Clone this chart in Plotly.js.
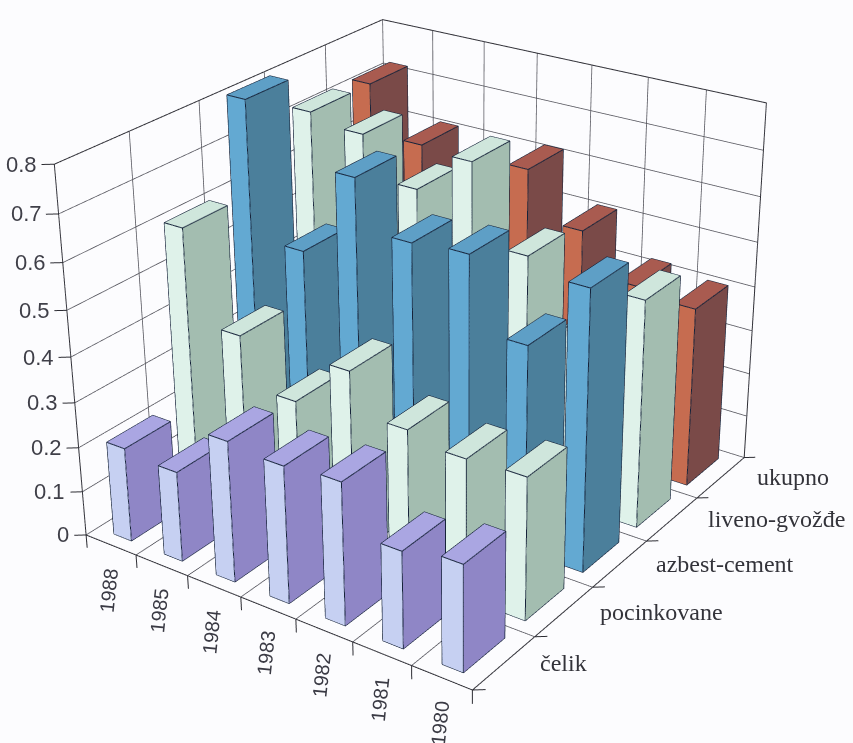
<!DOCTYPE html>
<html><head><meta charset="utf-8">
<script src="https://cdn.plot.ly/plotly-3.0.1.min.js"></script>
<style>html,body{margin:0;padding:0;width:853px;height:743px;overflow:hidden;background:#fcfcfe}
#c{position:absolute;left:-502px;top:-604px;width:1850px;height:1850px}</style>
</head><body><div id="c"></div>
<script>
var years=['1988','1985','1984','1983','1982','1981','1980'];
var seriesNames=['čelik','pocinkovane','azbest-cement','liveno-gvožđe','ukupno'];
var celik=[0.21,0.20,0.31,0.30,0.31,0.21,0.23];
var pocinkovane=[0.607,0.41,0.305,0.41,0.325,0.305,0.31];
var azbest=[0.81,0.515,0.705,0.60,0.61,0.455,0.61];
var liveno=[0.72,0.70,0.61,0.70,0.53,0.40,0.505];
var ukupno=[0.72,0.61,0.55,0.615,0.51,0.42,0.405];
var allSeries=[celik,pocinkovane,azbest,liveno,ukupno];
var frontColors=['#c6d0f2','#dff2ea','#63a9d2','#dff2ea','#c66c50'];
var sideColors=['#8f86c6','#a3bdb0','#4b7f9b','#a3bdb0','#7a4a48'];
var topColors=['#aaa6e2','#cfe6dc','#5e9fc6','#cfe6dc','#a95b50'];
var zTicks=[0,0.1,0.2,0.3,0.4,0.5,0.6,0.7,0.8];
var barW=0.35, barD=0.66;
var nx=years.length, ny=seriesNames.length, zMax=0.8;

var traces=[];
var ex=[],ey=[],ez=[];
function seg(arrX,arrY,arrZ,pts){pts.forEach(function(p){arrX.push(p[0]);arrY.push(p[1]);arrZ.push(p[2]);});arrX.push(null);arrY.push(null);arrZ.push(null);}
allSeries.forEach(function(vals,j){
  var X=[],Y=[],Z=[],I=[],J=[],K=[],FC=[];
  vals.forEach(function(v,i){
    var x0=i+0.5-barW/2,x1=i+0.5+barW/2,y0=j+0.5-barD/2,y1=j+0.5+barD/2;
    var b=X.length;
    [[x0,y0,0],[x1,y0,0],[x1,y1,0],[x0,y1,0],[x0,y0,v],[x1,y0,v],[x1,y1,v],[x0,y1,v]].forEach(function(p){X.push(p[0]);Y.push(p[1]);Z.push(p[2]);});
    var faces=[[0,1,5,frontColors[j]],[0,5,4,frontColors[j]],[1,2,6,sideColors[j]],[1,6,5,sideColors[j]],[4,5,6,topColors[j]],[4,6,7,topColors[j]]];
    faces.forEach(function(f){I.push(b+f[0]);J.push(b+f[1]);K.push(b+f[2]);FC.push(f[3]);});
    seg(ex,ey,ez,[[x0,y0,0],[x0,y0,v],[x0,y1,v],[x1,y1,v],[x1,y1,0],[x1,y0,0],[x0,y0,0]]);
    seg(ex,ey,ez,[[x1,y0,0],[x1,y0,v],[x0,y0,v]]);
    seg(ex,ey,ez,[[x1,y0,v],[x1,y1,v]]);
  });
  traces.push({type:'mesh3d',x:X,y:Y,z:Z,i:I,j:J,k:K,facecolor:FC,flatshading:true,hoverinfo:'skip',showscale:false,
    lighting:{ambient:1,diffuse:0,specular:0,roughness:1,fresnel:0},name:seriesNames[j]});
});
traces.push({type:'scatter3d',mode:'lines',x:ex,y:ey,z:ez,line:{color:'#16233a',width:2},hoverinfo:'skip',connectgaps:false});

var gx=[],gy=[],gz=[],fx=[],fy=[],fz=[];
for(var i=0;i<=nx;i++){
  seg(gx,gy,gz,[[i,0,0],[i,ny,0],[i,ny,zMax]]);
  seg(fx,fy,fz,[[i,0,0],[i,0,-0.03]]);
}
for(var j=0;j<=ny;j++){
  seg(gx,gy,gz,[[0,j,zMax],[0,j,0],[nx,j,0]]);
  seg(fx,fy,fz,[[nx,j,0],[nx+0.14,j+0.07,0]]);
}
zTicks.forEach(function(z){
  seg(gx,gy,gz,[[0,0,z],[0,ny,z],[nx,ny,z]]);
  seg(fx,fy,fz,[[0,0,z],[-0.14,-0.07,z]]);
});
seg(fx,fy,fz,[[0,0,zMax],[0,ny,zMax],[nx,ny,zMax],[nx,ny,0],[nx,0,0],[0,0,0],[0,0,zMax]]);
traces.push({type:'scatter3d',mode:'lines',x:gx,y:gy,z:gz,line:{color:'#5a5a62',width:1.6},hoverinfo:'skip',connectgaps:false});
traces.push({type:'scatter3d',mode:'lines',x:fx,y:fy,z:fz,line:{color:'#2c2c33',width:2},hoverinfo:'skip',connectgaps:false});

var ann=[];
years.forEach(function(t,i){ann.push({x:i+0.5,y:0,z:0,text:t,showarrow:false,textangle:-84,yanchor:'middle',xanchor:'center',yshift:-45,xshift:-2,
  font:{family:'Liberation Sans, Arial, sans-serif',size:20,color:'#3a3a44'}});});
seriesNames.forEach(function(t,j){ann.push({x:nx,y:j+0.5,z:0,text:t,showarrow:false,xanchor:'left',yanchor:'middle',xshift:34,yshift:0,
  font:{family:'Liberation Serif, serif',size:24,color:'#33333a'}});});
zTicks.forEach(function(z){ann.push({x:0,y:0,z:z,text:String(z),showarrow:false,xanchor:'right',yanchor:'middle',xshift:-15,
  font:{family:'Liberation Sans, Arial, sans-serif',size:22,color:'#3f3f48'}});});

function ax(lo,hi){return {range:[lo,hi],autorange:false,showgrid:false,zeroline:false,showline:false,showticklabels:false,ticks:'',showbackground:false,showspikes:false,title:{text:''}};}
var layout={width:1850,height:1850,margin:{l:0,r:0,t:0,b:0},paper_bgcolor:'#fcfcfe',showlegend:false,
 scene:{domain:{x:[0,1],y:[0,1]},bgcolor:'#fcfcfe',aspectmode:'manual',aspectratio:{x:1.113,y:1.26,z:0.984},
  xaxis:ax(-0.3,nx+0.3),yaxis:ax(-0.3,ny+0.3),zaxis:ax(-0.06,zMax+0.04),dragmode:false,
  camera:{projection:{type:'perspective'},center:{x:0,y:0,z:0.0109},up:{x:0.0064,y:0.0046,z:1},eye:{x:2.541,y:-3.56,z:2.125}},
  annotations:ann}};
Plotly.newPlot('c',traces,layout,{displayModeBar:false});
</script></body></html>
